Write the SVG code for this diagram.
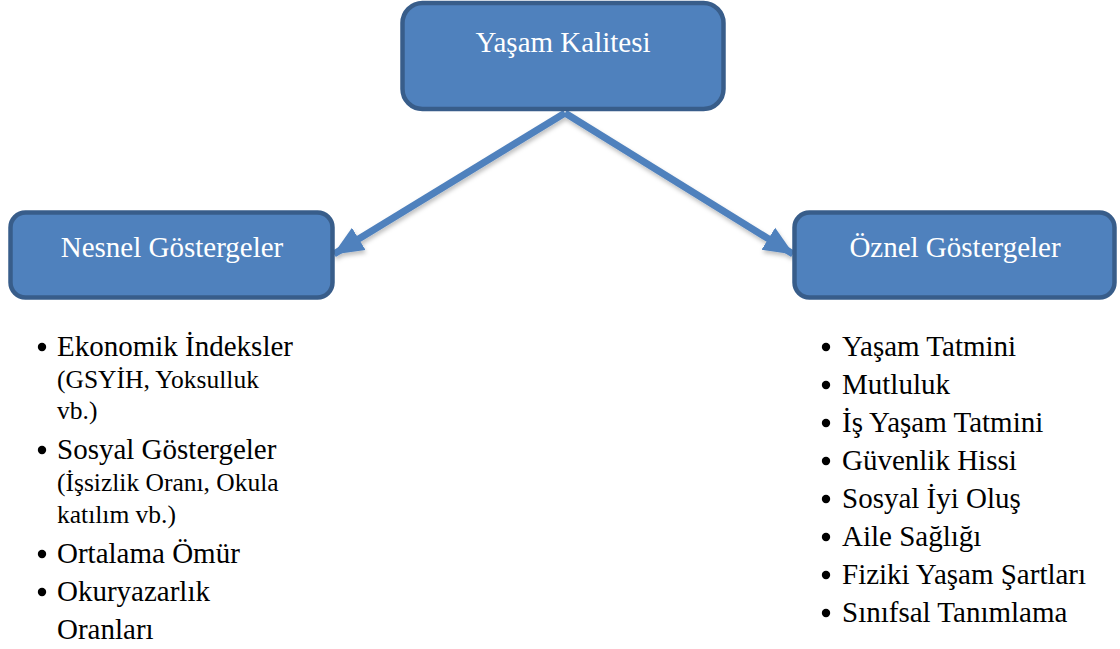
<svg xmlns="http://www.w3.org/2000/svg" width="1120" height="649" viewBox="0 0 1120 649">
  <style>
    .box { fill: #4F81BD; stroke: #385D8A; stroke-width: 4.5; }
    .title { font-size: 29px; fill: #FFFFFF; text-anchor: middle; }
    .item { font-size: 29px; fill: #000000; }
    .sub { font-size: 25.5px; fill: #000000; }
    .link { fill: none; stroke: #4F81BD; stroke-width: 7; marker-end: url(#head); }
    .dot { fill: #000000; }
  </style>
  <defs>
    <marker id="head" markerUnits="userSpaceOnUse" markerWidth="32" markerHeight="28" refX="29" refY="14" orient="auto">
      <path d="M0,1 L30,14 L0,27 Z" fill="#4F81BD"/>
    </marker>
    <filter id="shade" x="-10%" y="-10%" width="120%" height="130%">
      <feDropShadow dx="1" dy="3" stdDeviation="2" flood-color="#000000" flood-opacity="0.25"/>
    </filter>
  </defs>

  <rect width="1120" height="649" fill="#FFFFFF"/>

  <!-- connectors -->
  <g id="connectors" filter="url(#shade)">
    <path class="link" d="M565,113 L334,254"/>
    <path class="link" d="M565,113 L793,254"/>
  </g>

  <g font-family="Liberation Serif, DejaVu Serif, serif">
  <!-- root node -->
  <g id="node-yasam-kalitesi">
    <rect class="box" x="402.5" y="3" width="321" height="106" rx="20" ry="20"/>
    <text class="title" x="563" y="52">Yaşam Kalitesi</text>
  </g>

  <!-- left node -->
  <g id="node-nesnel">
    <rect class="box" x="10.5" y="212.5" width="322" height="85" rx="15" ry="15"/>
    <text class="title" x="172" y="257">Nesnel Göstergeler</text>
  </g>

  <!-- right node -->
  <g id="node-oznel">
    <rect class="box" x="794.5" y="212.5" width="320" height="85" rx="15" ry="15"/>
    <text class="title" x="955" y="257">Öznel Göstergeler</text>
  </g>

  <!-- objective indicators list -->
  <g id="list-nesnel">
    <circle class="dot" cx="42" cy="347" r="4.2"/>
    <text class="item" x="57" y="356">Ekonomik İndeksler</text>
    <text class="sub" x="57" y="388">(GSYİH, Yoksulluk</text>
    <text class="sub" x="57" y="419">vb.)</text>
    <circle class="dot" cx="42" cy="450" r="4.2"/>
    <text class="item" x="57" y="459">Sosyal Göstergeler</text>
    <text class="sub" x="57" y="491">(İşsizlik Oranı, Okula</text>
    <text class="sub" x="57" y="523">katılım vb.)</text>
    <circle class="dot" cx="42" cy="554" r="4.2"/>
    <text class="item" x="57" y="563">Ortalama Ömür</text>
    <circle class="dot" cx="42" cy="592" r="4.2"/>
    <text class="item" x="57" y="601">Okuryazarlık</text>
    <text class="item" x="57" y="639">Oranları</text>
  </g>

  <!-- subjective indicators list -->
  <g id="list-oznel">
    <circle class="dot" cx="826" cy="347" r="4.2"/>
    <text class="item" x="842" y="356">Yaşam Tatmini</text>
    <circle class="dot" cx="826" cy="385" r="4.2"/>
    <text class="item" x="842" y="394">Mutluluk</text>
    <circle class="dot" cx="826" cy="423" r="4.2"/>
    <text class="item" x="842" y="432">İş Yaşam Tatmini</text>
    <circle class="dot" cx="826" cy="461" r="4.2"/>
    <text class="item" x="842" y="470">Güvenlik Hissi</text>
    <circle class="dot" cx="826" cy="499" r="4.2"/>
    <text class="item" x="842" y="508">Sosyal İyi Oluş</text>
    <circle class="dot" cx="826" cy="537" r="4.2"/>
    <text class="item" x="842" y="546">Aile Sağlığı</text>
    <circle class="dot" cx="826" cy="575" r="4.2"/>
    <text class="item" x="842" y="584">Fiziki Yaşam Şartları</text>
    <circle class="dot" cx="826" cy="613" r="4.2"/>
    <text class="item" x="842" y="622">Sınıfsal Tanımlama</text>
  </g>
  </g>
</svg>
